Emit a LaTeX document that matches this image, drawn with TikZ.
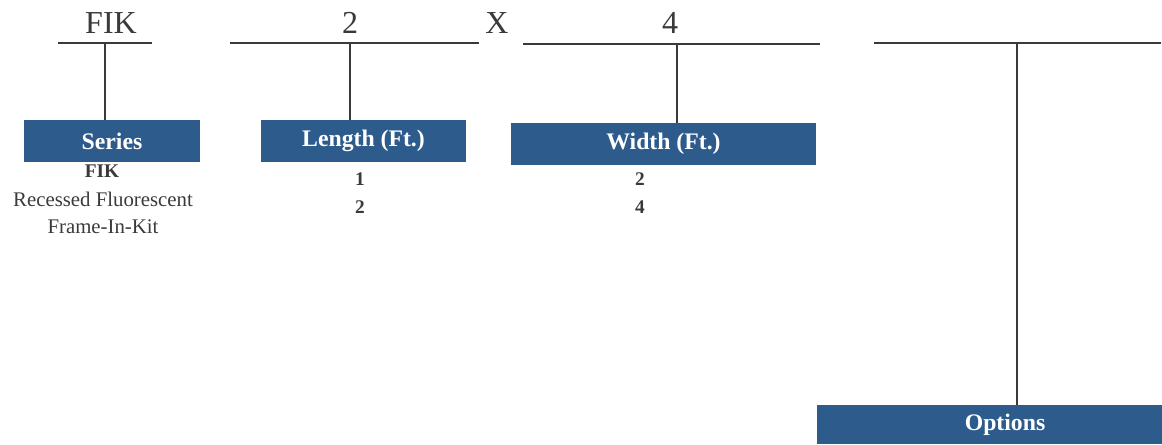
\documentclass[tikz,border=0pt]{standalone}
\usepackage{fontspec}
\setmainfont{Liberation Serif}
\definecolor{boxblue}{HTML}{2D5B8C}
\definecolor{inkgrey}{HTML}{3A3A3A}
\tikzset{
  rule/.style={line width=1.9pt, color=inkgrey},
  headbox/.style={fill=boxblue, text=white, inner sep=0pt, minimum height=31.5pt, font=\fontsize{17.8}{20}\selectfont\bfseries},
  code/.style={anchor=base, text=inkgrey, font=\fontsize{24}{28}\selectfont},
  choice/.style={text=inkgrey, font=\fontsize{14.5}{17}\selectfont\bfseries},
  note/.style={text=inkgrey, font=\fontsize{15.6}{18}\selectfont}
}
\begin{document}
\begin{tikzpicture}[x=0.75pt, y=-0.75pt]
			%%%%% FRAME %%%%%
			\useasboundingbox (0, 0) rectangle (1162, 444);
			
			%%%%% CODE LINE %%%%%
			\node[code] (serieslbl) at (111, 33) {FIK};
			\node[code] (lengthlbl) at (350, 33) {2};
			\node[code] (xlbl) at (497, 33) {X};
			\node[code] (widthlbl) at (670, 33) {4};
			
			\coordinate (s1) at (58, 43);   \coordinate (s2) at (152, 43);   \coordinate (sj) at (105, 43);
			\coordinate (l1) at (230, 43);  \coordinate (l2) at (479, 43);   \coordinate (lj) at (350, 43);
			\coordinate (w1) at (523, 44);  \coordinate (w2) at (820, 44);   \coordinate (wj) at (677, 44);
			\coordinate (o1) at (874, 43);  \coordinate (o2) at (1161, 43);  \coordinate (oj) at (1017, 43);
			
			\draw[rule] (s1) -- (s2);
			\draw[rule] (l1) -- (l2);
			\draw[rule] (w1) -- (w2);
			\draw[rule] (o1) -- (o2);
			
			%%%%% BOXES %%%%%
			\node[headbox, minimum width=132pt] (series) at (112, 141) {Series};
			\node[headbox, minimum width=153.75pt] (length) at (363.5, 141) {Length (Ft.)};
			\node[headbox, minimum width=228.75pt] (width) at (663.5, 144) {Width (Ft.)};
			\node[headbox, minimum width=282pt, minimum height=29.25pt] (options) at (1005, 424.5) {Options};
			
			\draw[rule] (sj) -- (sj |- series.north);
			\draw[rule] (lj) -- (lj |- length.north);
			\draw[rule] (wj) -- (wj |- width.north);
			\draw[rule] (oj) -- (oj |- options.north);
			
			%%%%% CHOICES %%%%%
			\node[choice] (fik) at (102, 171) {FIK};
			\node[note] (recessed) at (103, 199) {Recessed Fluorescent};
			\node[note] (frame) at (103, 227) {Frame-In-Kit};
			
			\node[choice] (lenone) at (360, 179) {1};
			\node[choice] (lentwo) at (360, 207) {2};
			
			\node[choice] (widtwo) at (640, 179) {2};
			\node[choice] (widfour) at (640, 207) {4};
			
			%%%%% END %%%%%
		\end{tikzpicture}
\end{document}
